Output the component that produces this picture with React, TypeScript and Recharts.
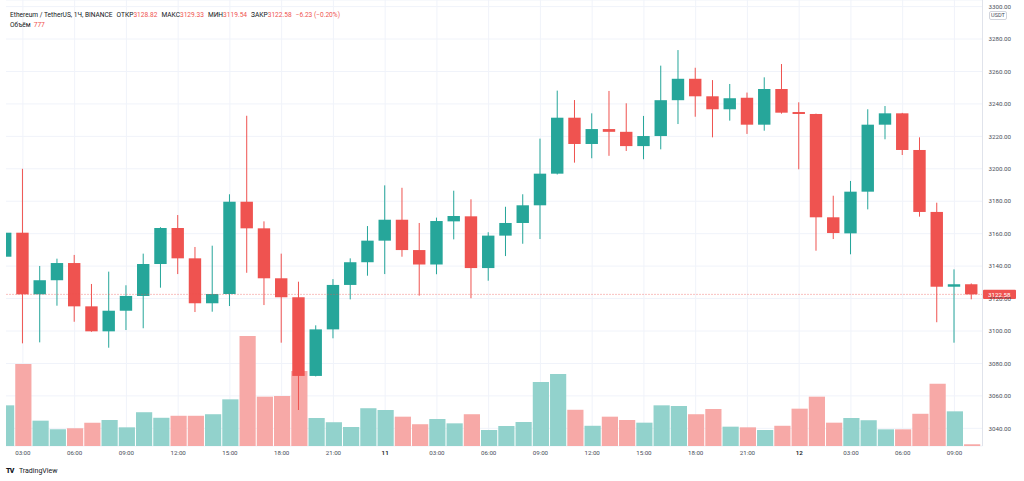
import React from "react";
import {
  ComposedChart,
  Bar,
  Cell,
  XAxis,
  YAxis,
  CartesianGrid,
  ReferenceLine,
} from "recharts";

// ETH/USDT 1h, Binance, 10 -> 12 (one label per candle)
const hours = [
  "02:00", "03:00", "04:00", "05:00", "06:00", "07:00", "08:00", "09:00", "10:00", "11:00",
  "12:00", "13:00", "14:00", "15:00", "16:00", "17:00", "18:00", "19:00", "20:00", "21:00",
  "22:00", "23:00", "11", "01:00", "02:00", "03:00", "04:00", "05:00", "06:00", "07:00",
  "08:00", "09:00", "10:00", "11:00", "12:00", "13:00", "14:00", "15:00", "16:00", "17:00",
  "18:00", "19:00", "20:00", "21:00", "22:00", "23:00", "12", "01:00", "02:00", "03:00",
  "04:00", "05:00", "06:00", "07:00", "08:00", "09:00", "10:00",
]

const opens = [
  3145.8, 3160.6, 3122.6, 3131.3, 3141.9, 3115.2, 3099.8, 3112.5, 3121.6, 3141.3,
  3163.5, 3144.8, 3117.1, 3122.8, 3179.7, 3163.3, 3132.5, 3120.8, 3072.3, 3101.0,
  3128.4, 3142.4, 3155.7, 3168.6, 3149.9, 3141.0, 3167.6, 3170.7, 3138.8, 3158.8,
  3166.6, 3177.5, 3197.0, 3231.5, 3215.3, 3224.5, 3222.8, 3214.0, 3220.2, 3242.3,
  3255.5, 3244.7, 3236.7, 3243.8, 3227.2, 3249.2, 3235.0, 3233.8, 3170.1, 3160.2,
  3185.9, 3227.2, 3234.2, 3211.6, 3173.4, 3127.3, 3128.82,
]
const highs = [
  3161.0, 3200.0, 3140.1, 3144.6, 3146.9, 3129.0, 3136.6, 3128.2, 3147.7, 3164.0,
  3171.5, 3151.8, 3152.6, 3184.3, 3232.7, 3167.6, 3147.7, 3130.4, 3103.5, 3132.0,
  3144.8, 3164.7, 3189.8, 3188.3, 3166.6, 3169.9, 3186.5, 3181.2, 3160.9, 3176.6,
  3184.3, 3218.6, 3248.2, 3242.4, 3234.2, 3248.0, 3240.4, 3232.6, 3263.6, 3273.2,
  3262.3, 3254.7, 3252.3, 3247.0, 3256.4, 3264.6, 3241.0, 3234.0, 3183.4, 3192.5,
  3236.7, 3238.7, 3234.5, 3219.4, 3179.1, 3138.0, 3129.33,
]
const lows = [
  3145.5, 3092.4, 3093.0, 3115.6, 3105.7, 3099.5, 3089.7, 3100.6, 3101.7, 3126.7,
  3135.1, 3111.7, 3111.9, 3115.4, 3135.9, 3116.0, 3092.8, 3051.3, 3072.0, 3095.5,
  3119.5, 3134.1, 3135.1, 3145.8, 3121.8, 3135.0, 3156.5, 3120.2, 3131.0, 3146.2,
  3153.8, 3156.7, 3196.5, 3203.8, 3206.5, 3208.0, 3211.0, 3205.9, 3212.0, 3227.6,
  3232.1, 3219.4, 3229.7, 3221.5, 3223.5, 3234.0, 3199.7, 3149.5, 3156.7, 3147.3,
  3175.0, 3218.2, 3208.5, 3170.5, 3105.4, 3092.8, 3119.54,
]
const closes = [
  3160.6, 3122.6, 3131.3, 3141.9, 3115.2, 3099.8, 3112.5, 3121.6, 3141.3, 3163.5,
  3144.8, 3117.1, 3122.8, 3179.7, 3163.3, 3132.5, 3120.8, 3072.3, 3101.0, 3128.4,
  3142.4, 3155.7, 3168.6, 3149.9, 3141.0, 3167.8, 3170.9, 3138.8, 3158.8, 3166.6,
  3177.5, 3197.0, 3231.5, 3215.3, 3224.5, 3222.8, 3214.0, 3220.2, 3242.3, 3255.5,
  3244.7, 3236.7, 3243.5, 3227.2, 3249.2, 3234.6, 3233.8, 3170.1, 3160.4, 3185.9,
  3227.2, 3234.2, 3211.6, 3173.4, 3127.3, 3128.82, 3122.58,
]
const volumes = [
  18300, 36900, 11400, 7500, 8000, 10500, 11700, 8400, 15200, 12700,
  13600, 13600, 14300, 21000, 49500, 22200, 22500, 33750, 12600, 10700,
  8550, 17000, 16200, 13200, 9800, 12150, 10200, 14300, 7200, 9000,
  10800, 28800, 32400, 16300, 9100, 13200, 11700, 10500, 18300, 18000,
  14300, 16650, 8700, 8400, 7200, 9100, 16800, 22200, 10500, 12600,
  11600, 7500, 7500, 14500, 28000, 15600, 777,
]

const timeTicks = [1, 4, 7, 10, 13, 16, 19, 22, 25, 28, 31, 34, 37, 40, 43, 46, 49, 52, 55]
const priceTicks = [3040, 3060, 3080, 3100, 3120, 3140, 3160, 3180, 3200, 3220, 3240, 3260, 3280, 3300]

const UP = "#26a69a"
const DOWN = "#ef5350"
const UP_VOL = "#92d2cc"
const DOWN_VOL = "#f7a9a7"
const TEXT = "#131722"
const AXIS_TEXT = "#4a4e59"
const FONT = "Roboto, 'Noto Sans', sans-serif"

const data = hours.map((hour, i) => ({
  i,
  hour,
  open: opens[i],
  high: highs[i],
  low: lows[i],
  close: closes[i],
  range: [lows[i], highs[i]],
  volume: volumes[i],
  up: closes[i] >= opens[i],
}))

const last = data[data.length - 1]

function Candle(props: any) {
  const { x, y, width, height, payload } = props
  if (!payload) return null
  const top = Math.min(y, y + height)
  const h = Math.abs(height)
  const { open, close, high, low, up } = payload
  const span = high - low || 1
  const toY = (p: number) => top + ((high - p) / span) * h
  const color = up ? UP : DOWN
  const cx = x + width / 2
  const bTop = toY(Math.max(open, close))
  const bBot = toY(Math.min(open, close))
  return (
    <g>
      <rect x={cx - 0.5} y={top} width={1} height={h} fill={color} />
      <rect x={x} y={bTop} width={width} height={Math.max(1, bBot - bTop)} fill={color} />
    </g>
  )
}

function TimeTick(props: any) {
  const { x, y, payload } = props
  const label = hours[payload.value]
  const isDay = !label.includes(":")
  return (
    <text
      x={x}
      y={y}
      dy={4.4}
      textAnchor="middle"
      fontSize={6.2}
      fontFamily={FONT}
      fontWeight={isDay ? 600 : 400}
      fill={isDay ? TEXT : AXIS_TEXT}
    >
      {label}
    </text>
  )
}

function PriceTag(props: any) {
  const vb = props.viewBox
  if (!vb) return null
  const x = vb.x + vb.width
  const y = vb.y
  return (
    <g>
      <rect x={x + 0.5} y={y - 4.6} width={33} height={9.2} rx={1} fill={DOWN} />
      <text x={x + 5.5} y={y} dy={2.2} fontSize={6.2} fontFamily={FONT} fill="#ffffff">
        {last.close.toFixed(2)}
      </text>
    </g>
  )
}

function Header() {
  const lab = { color: TEXT }
  const val = { color: DOWN, marginRight: 4 }
  return (
    <div
      style={{
        position: "absolute",
        left: 10,
        top: 9.5,
        fontFamily: FONT,
        fontSize: 6.6,
        lineHeight: "10px",
        color: TEXT,
        whiteSpace: "nowrap",
      }}
    >
      <div>
        <span style={{ marginRight: 4 }}>Ethereum / TetherUS, 1Ч, BINANCE</span>
        <span style={lab}>ОТКР</span>
        <span style={val}>{opens[opens.length - 1].toFixed(2)}</span>
        <span style={lab}>МАКС</span>
        <span style={val}>{highs[highs.length - 1].toFixed(2)}</span>
        <span style={lab}>МИН</span>
        <span style={val}>{lows[lows.length - 1].toFixed(2)}</span>
        <span style={lab}>ЗАКР</span>
        <span style={val}>{closes[closes.length - 1].toFixed(2)}</span>
        <span style={{ color: DOWN }}>−6.23 (−0.20%)</span>
      </div>
      <div>
        <span style={{ marginRight: 3 }}>Объём</span>
        <span style={{ color: DOWN }}>{volumes[volumes.length - 1]}</span>
      </div>
    </div>
  )
}

export default function App() {
  return (
    <div style={{ position: "absolute", left: 0, top: 0, width: 1024, height: 481, background: "#fff" }}>
      <div
        style={{
          position: "absolute",
          left: 5.5,
          top: 0,
          width: 1018.5,
          height: 481,
          overflow: "hidden",
        }}
      >
        <div style={{ position: "absolute", left: -8.57, top: 0 }}>
          <ComposedChart
            width={1027.5}
            height={481}
            data={data}
            margin={{ top: 0, right: 0, bottom: 0, left: 0 }}
          >
            <CartesianGrid xAxisId="main" yAxisId="price" stroke="#f0f3fa" strokeWidth={1} />
            <XAxis
              xAxisId="main"
              dataKey="i"
              type="category"
              ticks={timeTicks}
              interval={0}
              height={35}
              padding={{ left: 0, right: 2.2 }}
              axisLine={false}
              tickLine={false}
              tickSize={0}
              tickMargin={5}
              tick={<TimeTick />}
            />
            <XAxis xAxisId="vol" dataKey="i" type="category" hide padding={{ left: 0, right: 2.2 }} />
            <YAxis
              yAxisId="price"
              orientation="right"
              width={42}
              domain={[3029.1, 3304.07]}
              ticks={priceTicks}
              allowDataOverflow
              axisLine={{ stroke: "#e0e3eb" }}
              tickLine={false}
              tickSize={0}
              tickMargin={6}
              tick={{ fontSize: 6.2, fill: AXIS_TEXT, fontFamily: FONT }}
              tickFormatter={(v: number) => v.toFixed(2)}
            />
            <YAxis yAxisId="vol" hide domain={[0, 200700]} allowDataOverflow />
            <Bar xAxisId="vol" yAxisId="vol" dataKey="volume" barSize={16.2} isAnimationActive={false}>
              {data.map((d, idx) => (
                <Cell key={idx} fill={d.up ? UP_VOL : DOWN_VOL} />
              ))}
            </Bar>
            <Bar
              xAxisId="main"
              yAxisId="price"
              dataKey="range"
              barSize={12.4}
              shape={<Candle />}
              isAnimationActive={false}
            />
            <ReferenceLine
              xAxisId="main"
              yAxisId="price"
              y={last.close}
              stroke={DOWN}
              strokeOpacity={0.7}
              strokeDasharray="1 2"
              label={<PriceTag />}
            />
          </ComposedChart>
        </div>
      </div>
      <Header />
      <div
        style={{
          position: "absolute",
          left: 988.5,
          top: 11,
          border: "1px solid #d1d4dc",
          borderRadius: 2,
          padding: "0 1.5px",
          fontFamily: FONT,
          fontSize: 5.6,
          lineHeight: "7px",
          color: AXIS_TEXT,
          background: "#fff",
        }}
      >
        USDT
      </div>
      <div
        style={{
          position: "absolute",
          left: 6,
          top: 466,
          fontFamily: FONT,
          fontSize: 7,
          lineHeight: "10px",
          color: TEXT,
          whiteSpace: "nowrap",
        }}
      >
        <span style={{ fontWeight: 900, letterSpacing: -0.6, marginRight: 5 }}>TV</span>
        <span>TradingView</span>
      </div>
    </div>
  )
}
